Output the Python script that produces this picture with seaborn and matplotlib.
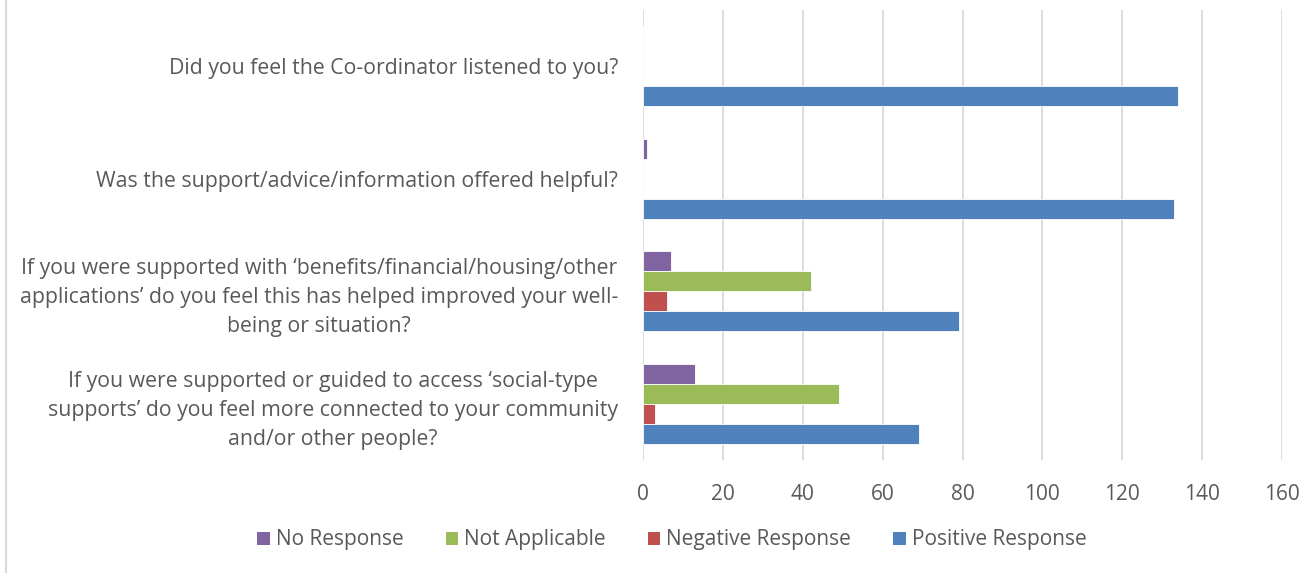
import matplotlib
matplotlib.use("Agg")
import matplotlib.pyplot as plt
import matplotlib.lines as mlines
import pandas as pd
import seaborn as sns

questions = [
    "Did you feel the Co-ordinator listened to you?",
    "Was the support/advice/information offered helpful?",
    "If you were supported with \u2018benefits/financial/housing/other\n"
    "applications\u2019 do you feel this has helped improved your well-\n"
    "being or situation?",
    "If you were supported or guided to access \u2018social-type\n"
    "supports\u2019 do you feel more connected to your community\n"
    "and/or other people?",
]
series = ["No Response", "Not Applicable", "Negative Response", "Positive Response"]
no_response = [0, 1, 7, 13]
not_applicable = [0, 0, 42, 49]
negative = [0, 0, 6, 3]
positive = [134, 133, 79, 69]
x_ticks = [0, 20, 40, 60, 80, 100, 120, 140, 160]

palette = {
    "No Response": "#8064A2",
    "Not Applicable": "#9BBB59",
    "Negative Response": "#C0504D",
    "Positive Response": "#4F81BD",
}
text_color = "#595959"

rows = []
for s, vals in zip(series, [no_response, not_applicable, negative, positive]):
    for q, v in zip(questions, vals):
        rows.append({"question": q, "response": s, "count": v})
df = pd.DataFrame(rows)

sns.set_theme(style="white")
plt.rcParams["font.family"] = ["Open Sans", "DejaVu Sans"]

fig = plt.figure(figsize=(13.14, 5.73), dpi=100)
ax = fig.add_axes([643 / 1314, 1 - 460 / 573, (1282 - 643) / 1314, 450 / 573])

sns.barplot(
    data=df, y="question", x="count", hue="response",
    order=questions, hue_order=series, palette=palette,
    orient="h", width=0.714, ax=ax, legend=False,
    edgecolor="white", linewidth=0.6, saturation=1,
)

ax.set_xlim(0, 160)
ax.set_ylim(3.5, -0.5)
ax.set_xticks(x_ticks)
ax.set_xlabel("")
ax.set_ylabel("")
ax.grid(axis="x", color="#D9D9D9", linewidth=1.3)
ax.set_axisbelow(True)
for sp in ax.spines.values():
    sp.set_visible(False)
ax.tick_params(axis="x", length=0, pad=17, labelsize=15, labelcolor=text_color)
ax.tick_params(axis="y", length=0, pad=18, labelsize=15.3, labelcolor=text_color)
for lbl in ax.get_yticklabels():
    lbl.set_multialignment("center")
    lbl.set_linespacing(1.5)

handles = [
    plt.Rectangle((0, 0), 1, 1, facecolor=palette[s], edgecolor="none")
    for s in series
]
fig.legend(
    handles, series, loc="center", bbox_to_anchor=(672 / 1314, 1 - 540 / 573),
    ncol=4, frameon=False, fontsize=15, labelcolor=text_color,
    handlelength=0.6, handleheight=0.6, handletextpad=0.3, columnspacing=2.0,
)

# thin frame edge on the left of the chart area
fig.add_artist(mlines.Line2D([6 / 1314, 6 / 1314], [0, 1], color="#D9D9D9",
                             linewidth=1.5, transform=fig.transFigure))

fig.savefig("out.png", dpi=100, facecolor="white")
